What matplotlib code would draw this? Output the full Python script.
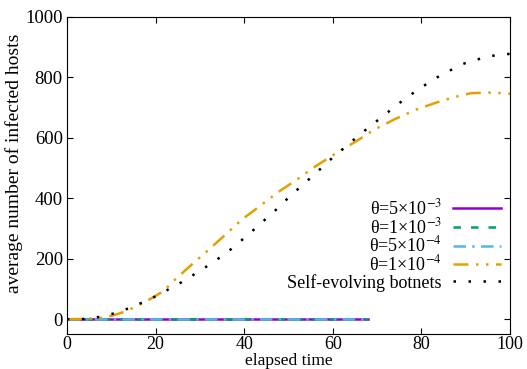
import matplotlib
matplotlib.use("Agg")
import matplotlib.pyplot as plt

plt.rcParams['font.family'] = ['Liberation Serif', 'DejaVu Serif']
plt.rcParams['mathtext.fontset'] = 'stix'
plt.rcParams['font.size'] = 13.5

# flat series (theta values) - all stay at zero until about t=68
t_flat = [0, 10, 20, 30, 40, 50, 60, 68]
v_5e3 = [0, 0, 0, 0, 0, 0, 0, 0]
v_1e3 = [0, 0, 0, 0, 0, 0, 0, 0]
v_5e4 = [0, 0, 0, 0, 0, 0, 0, 0]

# theta = 1e-4
t_1e4 = [0, 4, 8, 10.5, 13.5, 18, 21.8, 24, 27.8, 31.6, 35.4, 39.5, 43.5, 47.6,
         51.9, 56.1, 61, 65.2, 69.3, 74, 78.7, 84, 88.5, 91.2, 96.1, 100]
v_1e4 = [0, 1, 5, 13, 27, 60, 93, 126, 176, 225, 275, 330, 374, 420,
         462, 506, 552, 588, 627, 662, 693, 720, 739, 748, 750, 746]

# self-evolving botnets
t_self = [0, 3.2, 6, 8.8, 11.6, 14.1, 16.8, 19.4, 21.9, 24.4, 26.9, 29.3, 31.7,
          34, 36.4, 38.5, 40.7, 42.9, 47.1, 49.1, 53.2, 55.4, 59.6, 66.1, 68.3,
          75, 79.5, 84.4, 89.4, 94.8, 97.7, 100]
v_self = [0, 0, 4, 12, 23, 37, 54, 71, 91, 110, 131, 154, 176,
          199, 224, 250, 277, 306, 361, 390, 445, 473, 530, 611, 637,
          715, 763, 808, 845, 869, 875, 878]

fig = plt.figure(figsize=(5.27, 3.69), dpi=100)
ax = fig.add_axes([0.127, 0.094, 0.841, 0.860])

lw = 1.8
ax.plot(t_flat, v_5e3, color='#9400D3', lw=lw, ls='-', label=r'θ=5×10$^{-3}$')
ax.plot(t_flat, v_1e3, color='#009E73', lw=lw, ls=(0, (3, 4)), label=r'θ=1×10$^{-3}$')
ax.plot(t_flat, v_5e4, color='#56B4E9', lw=lw, ls=(0, (5, 2.5, 1, 2.5)), label=r'θ=5×10$^{-4}$')
ax.plot(t_1e4, v_1e4, color='#E69F00', lw=lw, ls=(0, (6, 3, 1, 3, 1, 3)), label=r'θ=1×10$^{-4}$')
ax.plot(t_self, v_self, color='black', lw=1.8, ls=(0, (1, 5)), label='Self-evolving botnets')

ax.set_xlim(0, 100)
ax.set_ylim(-50, 1000)
ax.set_xticks([0, 20, 40, 60, 80, 100])
ax.set_yticks([0, 200, 400, 600, 800, 1000])
ax.tick_params(direction='in', top=True, right=True, length=4, width=0.8, pad=3)
ax.tick_params(axis='x', labelsize=13, pad=1.5)
ax.set_xlabel('elapsed time', fontsize=12.5, labelpad=0)
ax.set_ylabel('average number of infected hosts', fontsize=14)
ax.yaxis.set_label_coords(-0.10, 0.54)

ax.legend(loc='center right', bbox_to_anchor=(0.979, 0.282), frameon=False,
          markerfirst=False, handlelength=2.67, labelspacing=-0.06,
          handletextpad=0.6, borderpad=0, borderaxespad=0, fontsize=13)

fig.savefig('out.png', dpi=100)
